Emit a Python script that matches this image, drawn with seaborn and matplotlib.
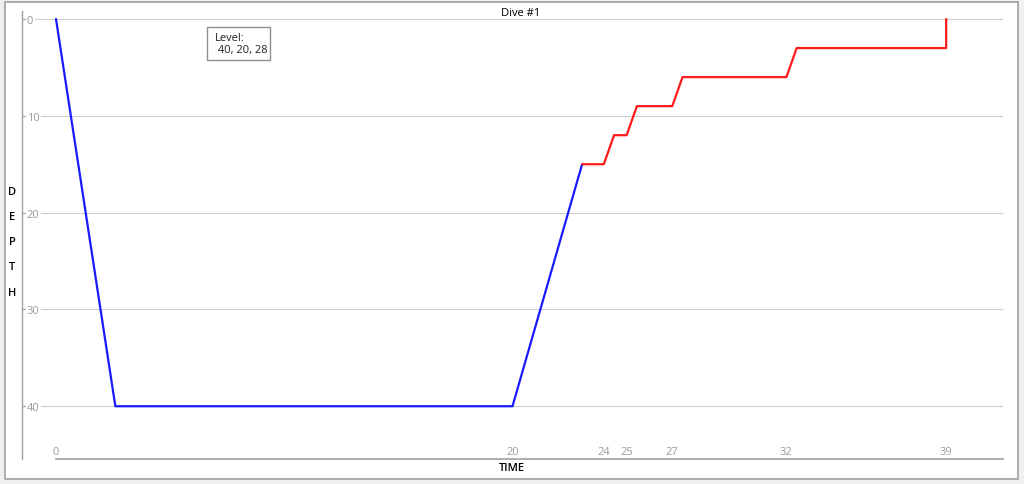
import matplotlib
matplotlib.use("Agg")
import matplotlib.pyplot as plt
from matplotlib.patches import Rectangle
import pandas as pd
import seaborn as sns

# dive profile: descent + bottom time + ascent (blue), deco stops (red)
descent_time = [0, 2.6, 20, 23.05]
descent_depth = [0, 40, 40, 15]
deco_time = [23.05, 24, 24.45, 25, 25.45, 27, 27.45, 32, 32.45, 39, 39]
deco_depth = [15, 15, 12, 12, 9, 9, 6, 6, 3, 3, 0]
x_ticks = [0, 20, 24, 25, 27, 32, 39]
y_ticks = [0, 10, 20, 30, 40]
level_text = "Level:\n 40, 20, 28"

sns.set_theme(style="white")
plt.rcParams['font.family'] = ['Open Sans', 'DejaVu Sans']

W, H = 1024, 485
fig = plt.figure(figsize=(W / 100, H / 100), dpi=100)
fig.patch.set_facecolor("#f0f0f0")
# white panel with a grey frame, behind the axes
fig.patches.append(Rectangle((5 / W, 1 - 480 / H), 1013 / W, 477 / H, transform=fig.transFigure,
                             facecolor="white", edgecolor="#a0a0a0", linewidth=1.2, zorder=-5))

ax = fig.add_axes([22 / W, 1 - 460 / H, 981 / W, 448 / H])
ax.set_facecolor("none")
ax.set_zorder(1)

df1 = pd.DataFrame({"time": descent_time, "depth": descent_depth})
df2 = pd.DataFrame({"time": deco_time, "depth": deco_depth})
sns.lineplot(data=df1, x="time", y="depth", ax=ax, color="#1a1aff", linewidth=1.6,
             sort=False, estimator=None, zorder=3)
sns.lineplot(data=df2, x="time", y="depth", ax=ax, color="#ff1a1a", linewidth=1.6,
             sort=False, estimator=None, zorder=3)

ax.set_xlim(-1.49, 41.49)
ax.set_ylim(45.45, -0.83)
ax.set_xticks(x_ticks)
ax.set_yticks(y_ticks)
ax.set_xlabel("")
ax.set_ylabel("")

ax.grid(axis="y", color="#cccccc", linewidth=0.8)
ax.grid(axis="x", visible=False)

for s in ["top", "right"]:
    ax.spines[s].set_visible(False)
ax.spines["left"].set_color("#a0a0a0")
ax.spines["left"].set_linewidth(1.0)
ax.spines["bottom"].set_color("#a0a0a0")
ax.spines["bottom"].set_linewidth(1.2)
ax.spines["bottom"].set_bounds(0, 41.49)

ax.tick_params(axis="y", direction="in", length=4, width=0.8, color="#a0a0a0",
               labelcolor="#9a9a9a", labelsize=8, pad=-3.5, left=True)
for lab in ax.get_yticklabels():
    lab.set_ha("left")
    lab.set_bbox(dict(facecolor="white", edgecolor="none", pad=1))
ax.tick_params(axis="x", length=0, labelcolor="#9a9a9a", labelsize=8, pad=-9)

fig.text(521 / W, 1 - 13 / H, "Dive #1", ha="center", va="center", fontsize=8, color="black",
         zorder=6)
fig.text(512 / W, 1 - 469 / H, "TIME", ha="center", va="center", fontsize=8, color="black",
         fontweight="semibold")
fig.text(12 / W, 1 - 243 / H, "D\nE\nP\nT\nH", ha="center", va="center", fontsize=8,
         color="black", linespacing=2.75, fontweight="semibold")

# level info box
fig.patches.append(Rectangle((207 / W, 1 - 61 / H), 63 / W, 33 / H, transform=fig.transFigure,
                             facecolor="white", edgecolor="#909090", linewidth=1.0, zorder=5))
fig.text(215 / W, 1 - 44.5 / H, level_text, ha="left", va="center", fontsize=8,
         color="#222222", linespacing=1.2, zorder=6)

fig.savefig("out.png", dpi=100, facecolor=fig.get_facecolor())
